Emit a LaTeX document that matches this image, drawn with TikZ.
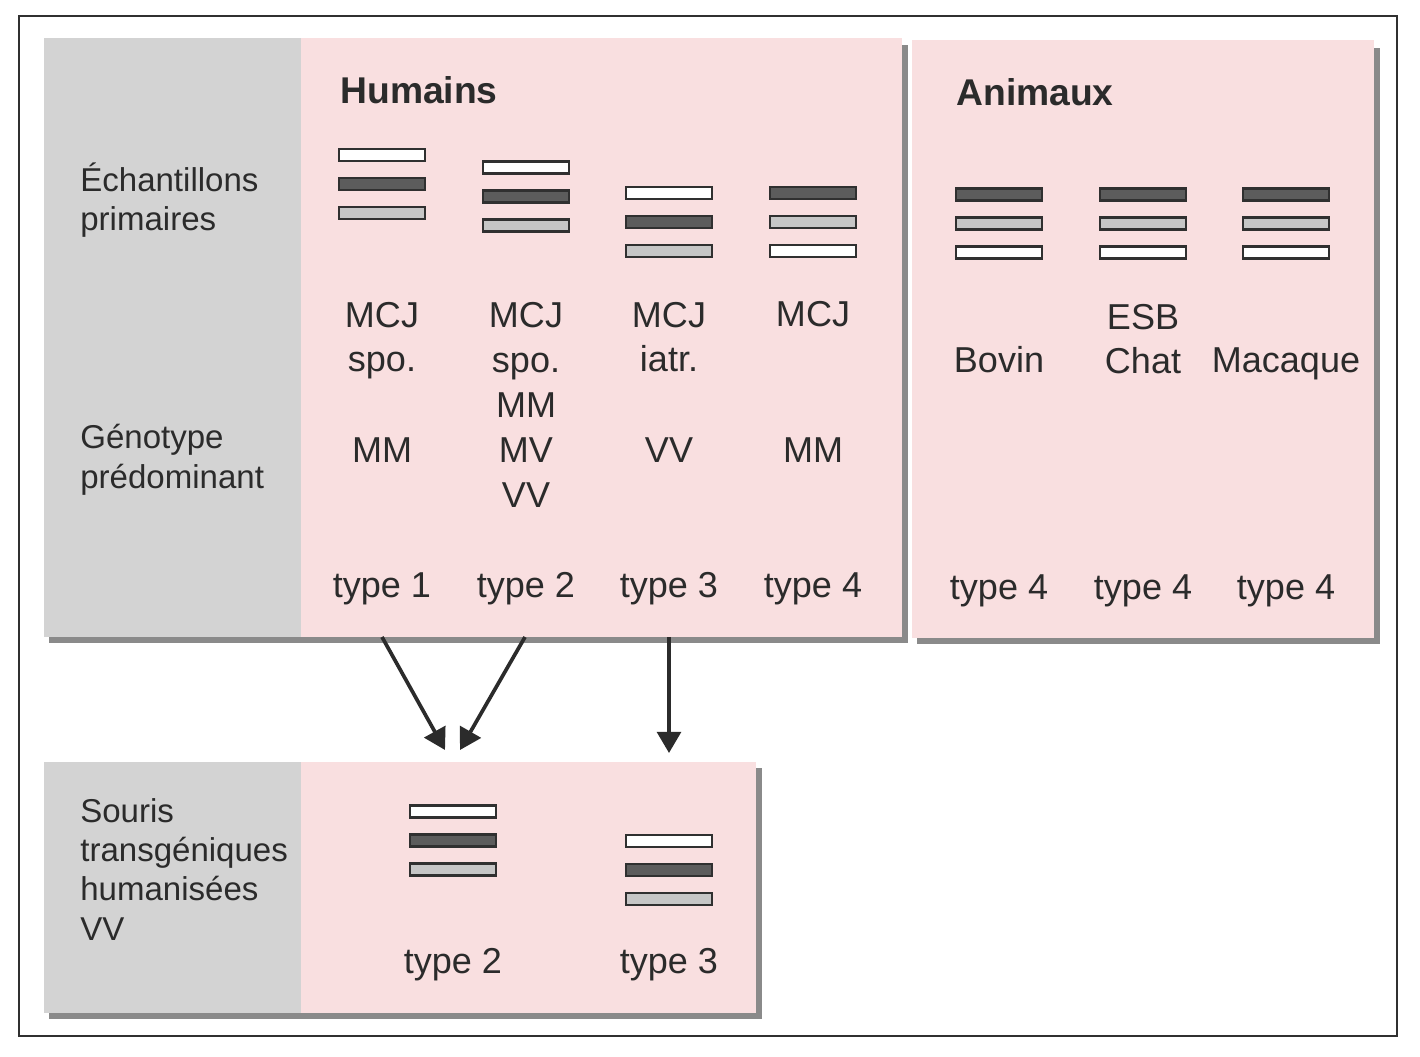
\documentclass[tikz,border=0pt]{standalone}
\usepackage{fontspec}
\setmainfont{Liberation Sans}
\usetikzlibrary{arrows.meta}

\definecolor{txt}{HTML}{2B2B2B}
\definecolor{edge}{HTML}{303030}
\definecolor{dark}{HTML}{5C5C5C}
\definecolor{light}{HTML}{C6C6C6}
\definecolor{grayzone}{HTML}{D3D3D3}
\definecolor{pinkzone}{HTML}{F9DFE0}
\definecolor{shadow}{HTML}{8A8A8A}

\begin{document}
\begin{tikzpicture}[x=0.02cm,y=-0.02cm,
    bar/.style={draw=edge,line width=1.4pt,minimum width=1.72cm,minimum height=0.24cm,inner sep=0pt},
    lbl/.style={text=txt,font=\fontsize{20.5}{25.5}\selectfont,align=center,anchor=base,inner sep=0pt},
    side/.style={text=txt,font=\fontsize{18.8}{22.3}\selectfont,align=left,anchor=base west,inner sep=0pt},
    head/.style={text=txt,font=\bfseries\fontsize{21.2}{25}\selectfont,anchor=base west,inner sep=0pt},
    flow/.style={draw=txt,line width=2.1pt,-{Triangle[length=12pt,width=13.5pt]}}]
    \useasboundingbox[fill=white](0,0)rectangle(1420,1057);
    \draw[edge,line width=1.1pt](19,16)rectangle(1397,1036);

    % panels with shadows
    \fill[shadow](49,45)rectangle(908,643);
    \fill[grayzone](44,38)rectangle(301,637);
    \fill[pinkzone](301,38)rectangle(902,637);
    \fill[shadow](917,48)rectangle(1380,644);
    \fill[pinkzone](912,40)rectangle(1374,638);
    \fill[shadow](49,768)rectangle(762,1019);
    \fill[grayzone](44,762)rectangle(301,1013);
    \fill[pinkzone](301,762)rectangle(756,1013);

    \node[head](humains) at (340,104) {Humains};
    \node[head](animaux) at (956,106) {Animaux};

    % multi-line labels sit on their last line
    \node[side](echant) at (80,231) {Échantillons\\primaires};
    \node[side](genot) at (80,488) {Génotype\\prédominant};
    \node[side](souris) at (80,940) {Souris\\transgéniques\\humanisées\\VV};

    % bars
    \foreach \x/\y/\a/\b/\c in {382/155/white/dark/light,526/167.5/white/dark/light,
        669/193/white/dark/light,813/193/dark/light/white,
        999/194.5/dark/light/white,1143/194.5/dark/light/white,1286/194.5/dark/light/white,
        453/811.5/white/dark/light,669/841/white/dark/light}{
        \node[bar,fill=\a](bar\x-\y-a) at (\x,\y) {};
        \node[bar,fill=\b](bar\x-\y-b) at (\x,\y+29) {};
        \node[bar,fill=\c](bar\x-\y-c) at (\x,\y+58) {};
    }

    \node[lbl](mcj1) at (382,372) {MCJ\\spo.};
    \node[lbl](mcj2) at (526,507) {MCJ\\spo.\\MM\\MV\\VV};
    \node[lbl](mcj3) at (669,372) {MCJ\\iatr.};
    \node[lbl](mcj4) at (813,327) {MCJ};
    \node[lbl](gen1) at (382,462) {MM};
    \node[lbl](gen3) at (669,462) {VV};
    \node[lbl](gen4) at (813,462) {MM};

    \node[lbl](bovin) at (999,373) {Bovin};
    \node[lbl](esb) at (1143,374) {ESB\\Chat};
    \node[lbl](macaque) at (1286,373) {Macaque};

    \node[lbl](t1) at (382,597) {type 1};
    \node[lbl](t2) at (526,597) {type 2};
    \node[lbl](t3) at (669,597) {type 3};
    \node[lbl](t4) at (813,597) {type 4};
    \node[lbl](t5) at (999,599) {type 4};
    \node[lbl](t6) at (1143,599) {type 4};
    \node[lbl](t7) at (1286,599) {type 4};
    \node[lbl](m2) at (453,973) {type 2};
    \node[lbl](m3) at (669,973) {type 3};

    % arrows
    \coordinate(s1) at (382,637);
    \coordinate(s2) at (525,637);
    \coordinate(s3) at (669,637);
    \coordinate(e1) at (445,750);
    \coordinate(e2) at (460,750);
    \coordinate(e3) at (669,753);
    \draw[flow](s1)--(e1);
    \draw[flow](s2)--(e2);
    \draw[flow](s3)--(e3);
\end{tikzpicture}
\end{document}
